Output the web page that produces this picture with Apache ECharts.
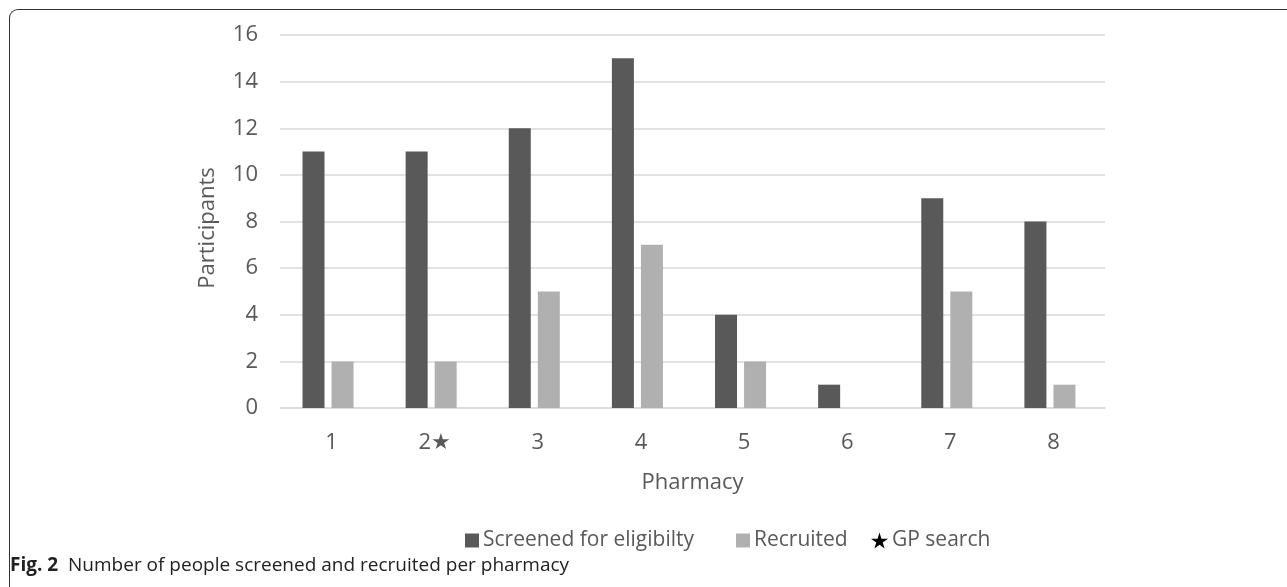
<!DOCTYPE html>
<html>
<head>
<meta charset="utf-8">
<script src="https://cdn.jsdelivr.net/npm/echarts@6/dist/echarts.min.js"></script>
<style>
html, body { margin: 0; padding: 0; background: #fff; }
#frame {
    position: absolute; left: 9px; top: 9px; width: 1290px; height: 590px;
    border-top: 1.5px solid #333; border-left: 1.5px solid #333;
    border-top-left-radius: 9px;
}
#chart { position: absolute; left: 0; top: 0; width: 1287px; height: 587px; }
#caption {
    position: absolute; left: 10px; top: 551px;
    font-family: "Open Sans", sans-serif; font-size: 19px; color: #222;
}
</style>
</head>
<body>
<div id="frame"></div>
<div id="chart"></div>
<div id="caption"><b>Fig. 2</b>&nbsp; Number of people screened and recruited per pharmacy</div>
<script>
var pharmacies = ['1', '2★', '3', '4', '5', '6', '7', '8'];
var screened = [11, 11, 12, 15, 4, 1, 9, 8];
var recruited = [2, 2, 5, 7, 2, 0, 5, 1];
var yTicks = { min: 0, max: 16, interval: 2 };

var starPath = 'path://M50,0 L61,35 L98,35 L68,57 L79,91 L50,70 L21,91 L32,57 L2,35 L39,35 Z';
var font = 'Open Sans';
var grey = '#595959';

function legendAt(left, name, icon, w) {
    return {
        left: left,
        top: 525,
        itemWidth: w,
        itemHeight: w,
        itemGap: 0,
        textStyle: { fontFamily: font, fontSize: 21, color: grey, padding: [0, 0, 0, -1] },
        data: [{ name: name, icon: icon }]
    };
}

var chart = echarts.init(document.getElementById('chart'));
option = {
    animation: false,
    grid: {
        left: 280,
        right: 182,
        top: 35,
        bottom: 179
    },
    legend: [
        legendAt(460, 'Screened for eligibilty', 'rect', 14),
        legendAt(731, 'Recruited', 'rect', 14),
        legendAt(866, 'GP search', starPath, 17)
    ],
    graphic: [{
        type: 'text',
        x: 208,
        y: 228,
        rotation: Math.PI / 2,
        style: {
            text: 'Participants',
            fontFamily: font,
            fontSize: 22,
            fill: grey,
            align: 'center',
            verticalAlign: 'middle'
        }
    }],
    xAxis: [{
        type: 'category',
        data: pharmacies,
        name: 'Pharmacy',
        nameLocation: 'middle',
        nameGap: 64,
        nameTextStyle: {
            fontFamily: font,
            fontSize: 22,
            color: grey
        },
        axisLine: {
            lineStyle: { color: '#d9d9d9', width: 1.5 }
        },
        axisTick: { show: false },
        axisLabel: {
            margin: 24,
            fontFamily: font,
            fontSize: 22,
            color: grey
        }
    }],
    yAxis: [{
        type: 'value',
        min: yTicks.min,
        max: yTicks.max,
        interval: yTicks.interval,
        axisLine: { show: false },
        axisTick: { show: false },
        axisLabel: {
            margin: 22,
            fontFamily: font,
            fontSize: 22,
            color: grey
        },
        splitLine: {
            lineStyle: { color: '#d9d9d9', width: 1.5 }
        }
    }],
    series: [{
        name: 'Screened for eligibilty',
        type: 'bar',
        barWidth: 22,
        barGap: '32%',
        itemStyle: { color: '#595959' },
        data: screened
    }, {
        name: 'Recruited',
        type: 'bar',
        barWidth: 22,
        itemStyle: { color: '#b0b0b0' },
        data: recruited
    }, {
        name: 'GP search',
        type: 'bar',
        barWidth: 0,
        itemStyle: { color: '#000' },
        data: []
    }]
};
chart.setOption(option);
</script>
</body>
</html>
